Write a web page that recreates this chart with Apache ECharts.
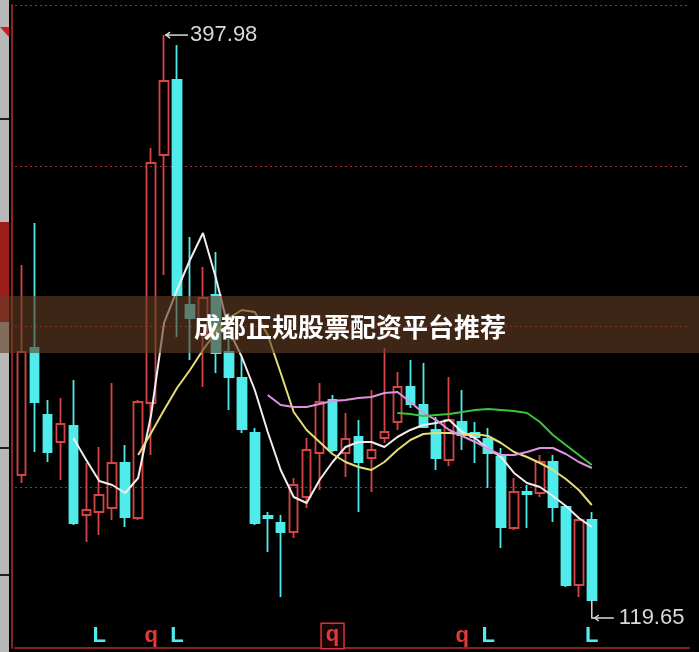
<!DOCTYPE html>
<html>
<head>
<meta charset="utf-8">
<script src="https://cdn.jsdelivr.net/npm/echarts@6/dist/echarts.min.js"></script>
<style>
html,body{margin:0;padding:0;background:#000;}
#c{width:699px;height:652px;}
</style>
</head>
<body>
<div id="c"></div>
<script>
// ---- data ----
const categories = ['1','2','3','4','5','6','7','8','9','10','11','12','13','14','15','16','17','18','19','20',
  '21','22','23','24','25','26','27','28','29','30','31','32','33','34','35','36','37','38','39','40',
  '41','42','43','44','45','46','47','48','49','50','51','52'];

const opens  = [181.24,243.81,210.80,197.50,205.38,161.53,163.01,164.98,187.15,160.05,216.71,338.90,375.85,264.99,250.21,
  269.92,241.84,229.03,201.93,161.04,157.59,153.15,170.40,192.08,218.19,192.08,199.96,189.61,199.47,207.35,
  224.59,215.72,203.41,188.63,207.35,201.93,198.97,190.11,155.12,172.86,172.37,187.64,165.47,127.04,159.06];
const closes = [241.84,217.20,192.57,206.36,157.59,163.99,171.38,187.15,160.55,217.20,334.95,375.35,269.92,258.59,268.44,
  241.34,229.52,203.90,157.59,160.05,153.15,176.31,193.55,217.20,193.55,198.97,187.64,193.55,202.42,224.59,
  216.22,204.88,189.61,208.33,200.95,199.96,192.08,155.62,172.86,171.88,187.64,165.47,127.04,159.06,119.65];
const lows   = [177.30,192.57,187.64,178.78,156.60,148.23,151.68,159.06,155.62,159.06,191.09,279.77,249.23,237.90,224.59,
  231.49,213.26,201.93,156.60,143.29,121.12,150.20,164.98,173.85,192.57,180.25,163.01,172.86,197.00,203.41,
  214.24,204.39,183.71,185.67,193.55,187.15,174.83,145.27,154.14,155.12,170.40,158.08,126.05,121.12,119.65];
const highs  = [284.70,305.39,218.19,219.17,228.04,187.15,195.03,226.56,196.02,218.19,342.35,397.98,393.09,298.50,283.71,
  291.11,261.05,239.37,204.39,163.01,161.53,179.76,199.47,226.56,220.65,211.78,208.33,223.11,243.81,231.98,
  237.90,236.42,209.81,229.52,223.11,207.35,204.39,194.54,179.76,176.31,191.09,191.09,166.46,160.05,163.01];

const maWhite = [null,null,null,null,199.47,188.63,178.28,176.31,172.37,179.76,210.80,256.13,272.38,287.16,300.46,
  278.30,252.68,239.37,223.11,202.42,183.71,170.40,167.44,178.78,187.64,195.03,197.50,197.50,195.03,199.96,
  203.41,205.87,206.86,208.33,202.42,199.47,194.05,190.11,182.23,177.30,175.32,170.89,165.96,160.05,155.62];
const maYellow = [null,null,null,null,null,null,null,null,null,191.09,201.93,213.26,224.10,232.97,242.82,
  251.69,258.59,262.53,261.54,250.21,231.49,212.27,203.41,197.50,191.59,187.64,185.18,183.71,187.64,193.55,
  198.48,201.43,201.93,201.93,201.43,201.43,200.45,197.00,192.57,190.11,187.15,183.71,179.27,173.85,166.46];
const maPink = [null,null,null,null,null,null,null,null,null,null,null,null,null,null,null,
  null,null,null,null,220.65,215.72,214.74,214.74,216.22,217.69,218.19,219.17,219.66,221.63,222.13,
  217.20,211.78,208.33,203.41,200.45,197.50,194.05,191.09,191.09,192.57,194.54,194.54,191.59,187.64,184.68];
const maGreen = [null,null,null,null,null,null,null,null,null,null,null,null,null,null,null,
  null,null,null,null,null,null,null,null,null,null,null,null,null,null,211.78,
  211.29,210.30,210.80,211.29,212.27,213.26,213.75,213.26,212.77,211.78,207.35,200.95,196.02,191.09,186.16];

const signalIndex = [6, 10, 12, 24, 34, 36, 44];
const signalText  = ['L', 'q', 'L', 'q', 'q', 'L', 'L'];
const signalBoxed = [false, false, false, true, false, false, false];

const bannerText = '成都正规股票配资平台推荐';

// ---- build ----
const candleData = opens.map((o, i) => [o, closes[i], lows[i], highs[i]]);
let maxI = 0, minI = 0;
highs.forEach((h, i) => { if (h > highs[maxI]) maxI = i; });
lows.forEach((l, i) => { if (l < lows[minI]) minI = i; });
const extremes = [[maxI, highs[maxI], 0], [minI, lows[minI], 1]];

const RED = '#d64444';
const CYAN = '#50ecec';
const GRIDRED = '#8a2222';

const chart = echarts.init(document.getElementById('c'));
chart.setOption({
  backgroundColor: '#000000',
  animation: false,
  grid: { left: 15, right: 10, top: 5, bottom: 4 },
  xAxis: {
    type: 'category',
    data: categories,
    boundaryGap: true,
    axisLine: { show: true, lineStyle: { color: GRIDRED, width: 2 } },
    axisTick: { show: false },
    splitLine: { show: false },
    axisLabel: {
      interval: 0,
      hideOverlap: false,
      margin: -12,
      verticalAlign: 'middle',
      formatter: function (v, i) {
        const k = signalIndex.indexOf(i);
        if (k < 0) return '';
        const t = signalText[k];
        if (signalBoxed[k]) return '{qb|' + t + '}';
        return '{' + t + '|' + t + '}';
      },
      rich: {
        L: { color: CYAN, fontSize: 22, fontWeight: 'bold', fontFamily: 'Liberation Sans' },
        q: { color: '#e03a3a', fontSize: 22, fontWeight: 'bold', fontFamily: 'Liberation Sans' },
        qb: { color: '#e03a3a', fontSize: 22, fontWeight: 'bold', fontFamily: 'Liberation Sans',
              borderColor: '#d83434', borderWidth: 1.5, padding: [0, 4, 2, 4], backgroundColor: '#1c0404' }
      }
    }
  },
  yAxis: [
    { type: 'value', min: 96, max: 412.8, show: false, splitLine: { show: false } },
    { type: 'value', min: 0, max: 4, interval: 1, position: 'left', offset: 3,
      axisLine: { show: true, lineStyle: { color: GRIDRED, width: 2 } },
      axisTick: { show: false }, axisLabel: { show: false },
      splitLine: { show: true, lineStyle: { color: '#a03030', width: 1, type: [2, 3] } } }
  ],
  series: [
    {
      type: 'candlestick',
      data: candleData,
      barWidth: 9,
      itemStyle: { color: 'rgba(0,0,0,0)', color0: CYAN, borderColor: RED, borderColor0: CYAN, borderWidth: 1.8 },
      z: 2
    },
    { type: 'line', data: maWhite, symbol: 'none', lineStyle: { color: '#f2ecee', width: 2 }, z: 3 },
    { type: 'line', data: maYellow, symbol: 'none', lineStyle: { color: '#e6dc78', width: 2 }, z: 3 },
    { type: 'line', data: maPink, symbol: 'none', lineStyle: { color: '#dc94e0', width: 2 }, z: 3 },
    { type: 'line', data: maGreen, symbol: 'none', lineStyle: { color: '#3cc43c', width: 2 }, z: 3 },
    {
      type: 'custom',
      data: extremes,
      z: 4,
      renderItem: function (params, api) {
        const p = api.coord([api.value(0), api.value(1)]);
        const isMin = api.value(2) === 1;
        const txt = Number(api.value(1)).toFixed(2);
        const col = '#d8d8d8';
        const font = '22px "Liberation Sans", Arial, sans-serif';
        if (!isMin) {
          const y = p[1], x = p[0];
          return { type: 'group', children: [
            { type: 'line', shape: { x1: x + 1, y1: y, x2: x + 24, y2: y }, style: { stroke: col, lineWidth: 1.5 } },
            { type: 'polyline', shape: { points: [[x + 6, y - 3], [x + 2, y], [x + 6, y + 3]] }, style: { stroke: col, lineWidth: 1.5, fill: null } },
            { type: 'text', x: x + 26, y: y, style: { text: txt, fill: col, font: font, align: 'left', verticalAlign: 'middle' } }
          ]};
        }
        const x = p[0], y = p[1] + 18;
        return { type: 'group', children: [
          { type: 'polyline', shape: { points: [[x, p[1]], [x, y], [x + 22, y]] }, style: { stroke: col, lineWidth: 1.5, fill: null } },
          { type: 'polyline', shape: { points: [[x + 7, y - 3], [x + 3, y], [x + 7, y + 3]] }, style: { stroke: col, lineWidth: 1.5, fill: null } },
          { type: 'text', x: x + 27, y: y, style: { text: txt, fill: col, font: font, align: 'left', verticalAlign: 'middle' } }
        ]};
      }
    }
  ],
  graphic: [
    { type: 'rect', x: 0, y: 0, shape: { width: 9, height: 652 }, style: { fill: '#b8b8b8' }, z: 1 },
    { type: 'polygon', shape: { points: [[0, 27], [9, 27], [9, 37]] }, style: { fill: '#d01c1c' }, z: 1 },
    { type: 'rect', x: 0, y: 118, shape: { width: 9, height: 2 }, style: { fill: '#202020' }, z: 1 },
    { type: 'rect', x: 0, y: 222, shape: { width: 9, height: 100 }, style: { fill: '#9c1c1c' }, z: 1 },
    { type: 'rect', x: 0, y: 447, shape: { width: 9, height: 2 }, style: { fill: '#202020' }, z: 1 },
    { type: 'rect', x: 0, y: 574, shape: { width: 9, height: 2 }, style: { fill: '#202020' }, z: 1 },
    { type: 'rect', x: 0, y: 296, shape: { width: 699, height: 57 }, style: { fill: 'rgba(100,62,35,0.62)' }, z: 100 },
    { type: 'text', x: 350, y: 327, style: { text: bannerText, fill: '#ffffff', font: 'bold 26px "Noto Sans CJK SC", sans-serif', align: 'center', verticalAlign: 'middle' }, z: 101 }
  ]
});
</script>
</body>
</html>
